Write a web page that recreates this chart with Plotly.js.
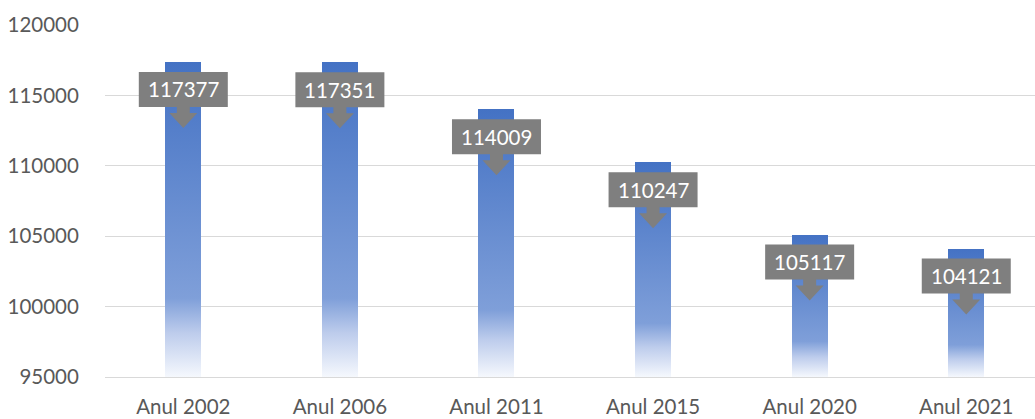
<!DOCTYPE html>
<html>
<head>
<meta charset="utf-8">
<script src="https://cdn.plot.ly/plotly-3.0.1.min.js"></script>
<style>
html,body{margin:0;padding:0;background:#fff;}
#chart{width:1035px;height:419px;}
</style>
</head>
<body>
<div id="chart"></div>
<script>
// ---- data ----
var categories = ["Anul 2002", "Anul 2006", "Anul 2011", "Anul 2015", "Anul 2020", "Anul 2021"];
var values = [117377, 117351, 114009, 110247, 105117, 104121];
var yTickVals = [95000, 100000, 105000, 110000, 115000, 120000];
var yTickText = ["95000", "100000", "105000", "110000", "115000", "120000"];

// ---- style constants ----
var axisBase = 95000;
var FONT = "Lato, 'Open Sans', sans-serif";
var calloutPath = "M-44.5,-10 L44.5,-10 L44.5,-45 L6.5,-45 L6.5,-51 L14,-51 L0,-66 L-14,-51 L-6.5,-51 L-6.5,-45 L-44.5,-45 Z";

var idx = categories.map(function(c, i){ return i; });

var trace = {
  type: "bar",
  x: idx,
  y: values.map(function(v){ return v - axisBase; }),
  base: axisBase,
  width: 0.23,
  marker: {color: "#4472C4", line: {width: 0}},
  hoverinfo: "skip"
};

var shapes = values.map(function(v, i){
  return {
    type: "path",
    xref: "x", yref: "y",
    xsizemode: "pixel", ysizemode: "pixel",
    xanchor: i, yanchor: v,
    path: calloutPath,
    fillcolor: "#7F7F7F",
    line: {width: 0},
    layer: "above"
  };
});

var annotations = values.map(function(v, i){
  return {
    x: i, y: v, xref: "x", yref: "y",
    text: String(v),
    showarrow: false,
    xanchor: "center", yanchor: "middle",
    yshift: -27.5,
    font: {family: FONT, size: 20.5, color: "#FFFFFF"}
  };
});

var layout = {
  width: 1035, height: 419,
  margin: {l: 105, r: 0, t: 25, b: 42, pad: 0},
  paper_bgcolor: "#FFFFFF",
  plot_bgcolor: "#FFFFFF",
  showlegend: false,
  bargap: 0,
  xaxis: {
    range: [-0.5, 5.439],
    tickmode: "array",
    tickvals: idx,
    ticktext: categories,
    showgrid: false,
    zeroline: false,
    showline: true,
    linecolor: "#D9D9D9",
    linewidth: 1,
    ticks: "outside",
    ticklen: 11,
    tickcolor: "rgba(0,0,0,0)",
    tickfont: {family: FONT, size: 20.5, color: "#595959"},
    fixedrange: true
  },
  yaxis: {
    range: [95000, 120000],
    tickmode: "array",
    tickvals: yTickVals,
    ticktext: yTickText,
    showgrid: true,
    gridcolor: "#D9D9D9",
    gridwidth: 1,
    zeroline: false,
    showline: false,
    ticks: "outside",
    ticklen: 21,
    tickcolor: "rgba(0,0,0,0)",
    tickfont: {family: FONT, size: 20.5, color: "#595959"},
    fixedrange: true
  },
  shapes: shapes,
  annotations: annotations
};

function applyGradient(gd){
  var svg = gd.querySelector("svg.main-svg");
  if(!svg) return;
  var ns = "http://www.w3.org/2000/svg";
  var defs = svg.querySelector("defs");
  if(!defs){ defs = document.createElementNS(ns, "defs"); svg.insertBefore(defs, svg.firstChild); }
  if(!svg.querySelector("#barGrad")){
    var lg = document.createElementNS(ns, "linearGradient");
    lg.setAttribute("id", "barGrad");
    lg.setAttribute("x1", "0"); lg.setAttribute("y1", "0");
    lg.setAttribute("x2", "0"); lg.setAttribute("y2", "1");
    var stops = [[0, "#4472C4"], [0.75, "#7F9FD9"], [0.86, "#BDCCEC"], [1, "#F5F8FD"]];
    stops.forEach(function(s){
      var st = document.createElementNS(ns, "stop");
      st.setAttribute("offset", s[0]);
      st.setAttribute("stop-color", s[1]);
      lg.appendChild(st);
    });
    defs.appendChild(lg);
  }
  gd.querySelectorAll(".barlayer .point path").forEach(function(p){
    p.style.fill = "url(#barGrad)";
  });
}

var gd = document.getElementById("chart");
Plotly.newPlot(gd, [trace], layout, {displayModeBar: false, staticPlot: true}).then(function(){
  applyGradient(gd);
});
</script>
</body>
</html>
